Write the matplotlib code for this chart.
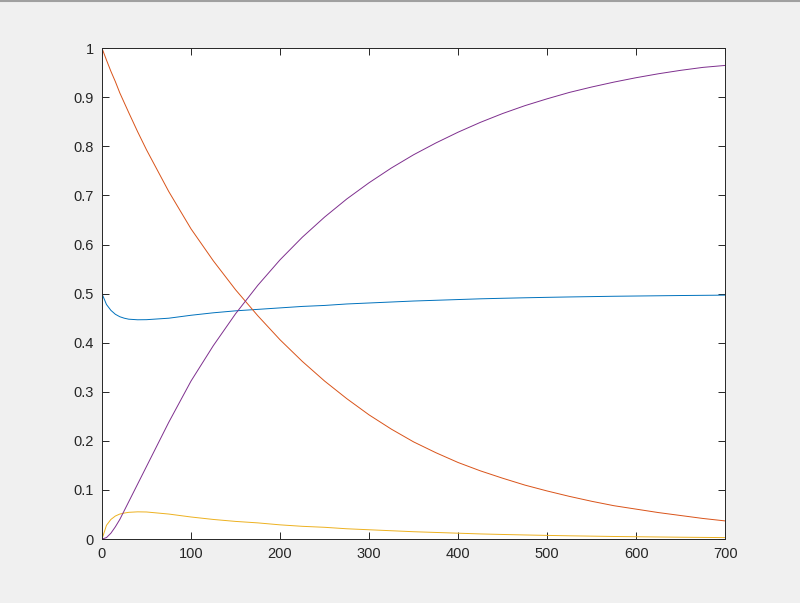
import numpy as np
import matplotlib
matplotlib.use('Agg')
import matplotlib.pyplot as plt
from matplotlib.lines import Line2D

# values
t = [0, 5, 10, 15, 20, 25, 30, 40, 50, 75, 100, 125, 150, 175, 200, 225,
     250, 275, 300, 325, 350, 375, 400, 425, 450, 475, 500, 525, 550, 575,
     600, 625, 650, 675, 700]
blue = [0.5, 0.478, 0.466, 0.458, 0.453, 0.450, 0.448, 0.4468, 0.447, 0.450,
        0.456, 0.461, 0.465, 0.468, 0.471, 0.474, 0.476, 0.479, 0.481, 0.483,
        0.485, 0.4865, 0.488, 0.4895, 0.4906, 0.4916, 0.4925, 0.4933, 0.494,
        0.4947, 0.4952, 0.4957, 0.4962, 0.4966, 0.497]
orange = [1.0, 0.976, 0.953, 0.932, 0.909, 0.889, 0.869, 0.83, 0.793, 0.708,
          0.632, 0.567, 0.508, 0.455, 0.406, 0.362, 0.322, 0.286, 0.253,
          0.224, 0.198, 0.176, 0.156, 0.139, 0.124, 0.110, 0.098, 0.087,
          0.077, 0.068, 0.061, 0.054, 0.048, 0.042, 0.037]
yellow = [0.0, 0.028, 0.04, 0.047, 0.051, 0.053, 0.0545, 0.0555, 0.0552,
          0.051, 0.045, 0.040, 0.036, 0.033, 0.029, 0.026, 0.024, 0.021,
          0.019, 0.017, 0.015, 0.0135, 0.012, 0.0105, 0.0094, 0.0084, 0.0075,
          0.0067, 0.006, 0.0053, 0.0048, 0.0043, 0.0038, 0.0034, 0.003]
purple = [0.0, 0.003, 0.012, 0.025, 0.04, 0.058, 0.076, 0.112, 0.148, 0.238,
          0.322, 0.394, 0.459, 0.517, 0.569, 0.615, 0.656, 0.693, 0.726,
          0.756, 0.783, 0.807, 0.829, 0.849, 0.867, 0.883, 0.897, 0.910,
          0.921, 0.931, 0.940, 0.948, 0.955, 0.961, 0.965]

plt.rcParams['font.family'] = ['Liberation Sans', 'DejaVu Sans']

fig = plt.figure(figsize=(8, 6.03), dpi=100, facecolor='#f0f0f0')
ax = fig.add_axes([0.1275, 0.106, 0.779, 0.814])
ax.set_facecolor('white')

ax.plot(t, blue, color='#0072BD', lw=0.7)
ax.plot(t, orange, color='#D95319', lw=0.7)
ax.plot(t, yellow, color='#EDB120', lw=0.7)
ax.plot(t, purple, color='#7E2F8E', lw=0.7)

ax.set_xlim(0, 700)
ax.set_ylim(0, 1)
ax.set_xticks(np.arange(0, 701, 100))
ax.set_yticks(np.arange(0, 1.01, 0.1))
ax.set_yticklabels(['0', '0.1', '0.2', '0.3', '0.4', '0.5', '0.6', '0.7',
                    '0.8', '0.9', '1'])
ax.tick_params(direction='in', top=True, right=True, length=5, width=0.7,
               colors='#262626', labelsize=10.5, pad=6)
for s in ax.spines.values():
    s.set_color('#262626')
    s.set_linewidth(0.7)

# window border at the very top
fig.add_artist(Line2D([0, 1], [0.998, 0.998], color='#a0a0a0', lw=1.5,
                      transform=fig.transFigure))

fig.savefig('out.png', dpi=100, facecolor=fig.get_facecolor())
